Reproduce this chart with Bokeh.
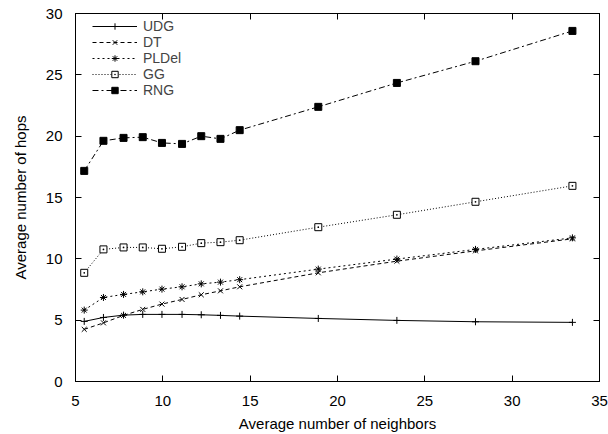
from bokeh.plotting import figure
from bokeh.models import LinearAxis, FixedTicker, Legend, LegendItem, Range1d
from bokeh.embed import file_html
from bokeh.resources import INLINE

# ---- data ----
neighbors = [5.5, 6.6, 7.75, 8.85, 9.95, 11.1, 12.2, 13.3, 14.4, 18.9, 23.4, 27.9, 33.45]
udg   = [4.90, 5.22, 5.41, 5.47, 5.47, 5.47, 5.44, 5.39, 5.33, 5.14, 4.98, 4.87, 4.82]
dt    = [4.25, 4.78, 5.39, 5.88, 6.31, 6.69, 7.07, 7.39, 7.72, 8.86, 9.81, 10.65, 11.63]
pldel = [5.82, 6.85, 7.10, 7.31, 7.53, 7.72, 7.96, 8.10, 8.30, 9.16, 9.98, 10.77, 11.71]
gg    = [8.86, 10.77, 10.93, 10.93, 10.82, 10.98, 11.28, 11.36, 11.52, 12.58, 13.59, 14.65, 15.95]
rng   = [17.17, 19.62, 19.86, 19.92, 19.45, 19.37, 20.00, 19.78, 20.49, 22.39, 24.34, 26.11, 28.58]

x_ticks = [5, 10, 15, 20, 25, 30, 35]
y_ticks = [0, 5, 10, 15, 20, 25, 30]

FONT = "Liberation Sans"
FS = "15px"

p = figure(width=608, height=434, output_backend="svg", toolbar_location=None,
           x_range=Range1d(5, 35), y_range=Range1d(0, 30),
           min_border_left=75, min_border_right=9, min_border_top=13, min_border_bottom=53)
p.background_fill_color = "white"
p.border_fill_color = "white"
p.outline_line_color = "black"
p.outline_line_width = 1
p.xgrid.visible = False
p.ygrid.visible = False

def style_axis(ax, ticks, show_labels=True):
    ax.ticker = FixedTicker(ticks=ticks)
    ax.major_tick_in = 6
    ax.major_tick_out = 0
    ax.minor_tick_line_color = None
    ax.axis_line_color = "black"
    ax.major_tick_line_color = "black"
    ax.major_label_text_font = FONT
    ax.major_label_text_font_size = FS
    ax.major_label_text_color = "black" if show_labels else None
    ax.axis_label_text_font = FONT
    ax.axis_label_text_font_size = FS
    ax.axis_label_text_font_style = "normal"
    ax.axis_label_text_color = "black"

style_axis(p.xaxis[0], x_ticks)
style_axis(p.yaxis[0], y_ticks)
p.xaxis[0].axis_label = "Average number of neighbors"
p.yaxis[0].axis_label = "Average number of hops"
p.xaxis[0].major_label_standoff = 14
p.xaxis[0].axis_label_standoff = 6
p.yaxis[0].major_label_standoff = 13
p.yaxis[0].axis_label_standoff = 14

top = LinearAxis()
style_axis(top, x_ticks, show_labels=False)
top.major_label_standoff = 0
top.major_label_text_font_size = "1px"
p.add_layout(top, "above")
right = LinearAxis()
style_axis(right, y_ticks, show_labels=False)
right.major_label_standoff = 0
right.major_label_text_font_size = "1px"
p.add_layout(right, "right")

series = [
    ("UDG", udg, "solid", "cross", "black"),
    ("DT", dt, "4 3", "x", "black"),
    ("PLDel", pldel, "2 3", "asterisk", "black"),
    ("GG", gg, "1 2", "square_dot", None),
    ("RNG", rng, "6 3 2 3", "square", "black"),
]

items = []
for name, ys, dash, marker, fill in series:
    lr = p.line(neighbors, ys, line_color="black", line_width=1, line_dash=dash)
    sr = p.scatter(neighbors, ys, marker=marker, size=7, line_color="black",
                   fill_color=fill if fill else "white", line_width=1)
    items.append(LegendItem(label=name, renderers=[lr, sr]))

legend = Legend(items=items, location=(17, 283))
legend.margin = 0
legend.padding = 2
legend.spacing = 0
legend.glyph_width = 45
legend.glyph_height = 16
legend.label_height = 16
legend.label_standoff = 6
legend.label_text_font = FONT
legend.label_text_font_size = "14px"
legend.background_fill_alpha = 0
legend.border_line_color = None
legend.label_text_baseline = "middle"
p.add_layout(legend, "center")

open("out.html", "w").write(file_html(p, INLINE))
